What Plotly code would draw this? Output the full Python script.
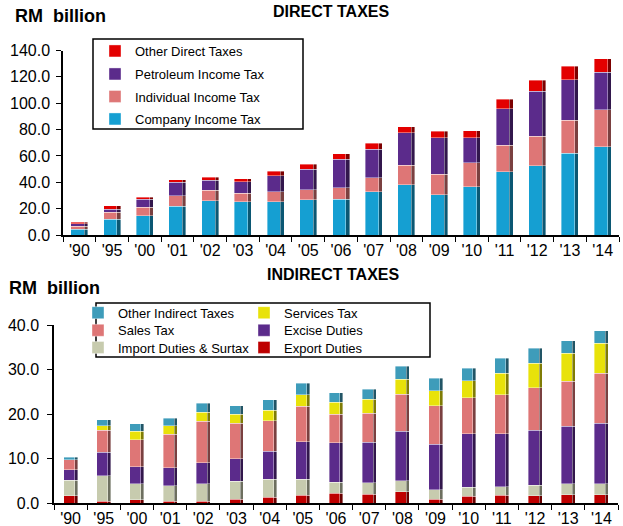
import plotly.graph_objects as go

years = ["'90", "'95", "'00", "'01", "'02", "'03", "'04", "'05", "'06",
         "'07", "'08", "'09", "'10", "'11", "'12", "'13", "'14"]

# Direct taxes (RM billion)
company_income_tax = [4.5, 12.1, 14.6, 21.7, 25.9, 25.2, 25.4, 26.7, 27.2,
                      32.7, 38.3, 30.7, 36.8, 48.1, 52.4, 61.9, 67.0]
individual_income_tax = [2.2, 5.0, 6.3, 8.0, 8.1, 6.3, 7.3, 7.5, 8.8,
                         10.9, 14.8, 15.4, 18.1, 19.9, 22.6, 25.2, 28.2]
petroleum_income_tax = [1.9, 2.5, 6.3, 10.3, 7.5, 8.8, 12.1, 15.7, 21.4,
                        21.4, 24.4, 27.7, 18.9, 27.7, 34.0, 30.7, 28.2]
other_direct_taxes = [1.0, 2.6, 1.5, 2.1, 2.5, 2.5, 3.5, 3.7, 4.3,
                      4.5, 4.6, 4.8, 5.3, 7.3, 8.6, 10.1, 10.3]

# Indirect taxes (RM billion)
export_duties = [1.6, 0.4, 0.7, 0.4, 0.4, 0.9, 1.3, 1.7, 2.2,
                 2.0, 2.5, 0.9, 1.5, 1.7, 1.6, 1.8, 1.8]
import_duties = [3.5, 5.7, 3.6, 3.5, 3.9, 4.0, 4.0, 3.6, 2.5,
                 2.5, 2.5, 2.1, 2.0, 2.0, 2.4, 2.5, 2.5]
excise_duties = [2.4, 5.3, 3.9, 4.0, 4.7, 5.0, 6.3, 8.5, 8.8,
                 9.1, 11.1, 10.2, 12.1, 11.9, 12.3, 13.0, 13.6]
sales_tax = [2.2, 4.9, 6.0, 7.6, 9.4, 8.0, 6.9, 7.9, 6.5,
             6.6, 8.3, 8.6, 8.1, 8.7, 9.6, 10.1, 11.3]
services_tax = [0.0, 1.1, 1.9, 1.9, 2.0, 2.1, 2.3, 2.6, 2.6,
                3.1, 3.4, 3.4, 3.8, 4.9, 5.5, 6.2, 6.7]
other_indirect_taxes = [0.6, 1.3, 1.7, 1.7, 2.0, 1.8, 2.4, 2.6, 2.2,
                        2.3, 2.9, 2.8, 2.8, 3.3, 3.4, 2.9, 2.8]

direct_ticks = [0, 20, 40, 60, 80, 100, 120, 140]
indirect_ticks = [0, 10, 20, 30, 40]

W, H = 623, 526
FONT = "Liberation Sans, Arial, sans-serif"


def px_x(p):
    return p / W


def px_y(p):
    return (H - p) / H


def darken(hex_col, f=0.55):
    h = hex_col.lstrip("#")
    r, g, b = (int(h[i:i + 2], 16) for i in (0, 2, 4))
    return "rgb(%d,%d,%d)" % (r * f, g * f, b * f)


fig = go.Figure()

# (name, values, colour, legend-id, legend text-left px, legend row centre px)
direct_series = [
    ("Company Income Tax", company_income_tax, "#159FD2", "legend5", 135, 119),
    ("Individual Income Tax", individual_income_tax, "#DE7676", "legend4", 135, 96.5),
    ("Petroleum Income Tax", petroleum_income_tax, "#5B2B8B", "legend3", 135, 74),
    ("Other Direct Taxes", other_direct_taxes, "#E30000", "legend2", 135, 51),
]
indirect_series = [
    ("Export Duties", export_duties, "#BE0000", "legend6", 284, 347.5),
    ("Import Duties & Surtax", import_duties, "#C7CBAE", "legend7", 118, 347.5),
    ("Excise Duties", excise_duties, "#5B2B8B", "legend8", 284, 330.3),
    ("Sales Tax", sales_tax, "#DE7676", "legend9", 118, 330.3),
    ("Services Tax", services_tax, "#E8E20A", "legend10", 284, 312.7),
    ("Other Indirect Taxes", other_indirect_taxes, "#3E9CBA", "legend11", 118, 312.7),
]

SEP = dict(width=0.6, color="rgba(255,255,255,0.65)")

legends = {}
for name, vals, col, leg, tx, ty in direct_series:
    fig.add_trace(go.Bar(
        x=years, y=vals, name=name, xaxis="x", yaxis="y",
        width=0.52, marker=dict(color=col, line=SEP),
        legend=leg, showlegend=True,
    ))
    legends[leg] = (tx, ty)
# shaded right edge of each bar segment (bevel look)
for name, vals, col, leg, tx, ty in direct_series:
    fig.add_trace(go.Bar(
        x=years, y=vals, name=name, xaxis="x3", yaxis="y3",
        width=0.11, offset=0.15, marker=dict(color=darken(col), line=SEP),
        showlegend=False, hoverinfo="skip",
    ))

for name, vals, col, leg, tx, ty in indirect_series:
    fig.add_trace(go.Bar(
        x=years, y=vals, name=name, xaxis="x2", yaxis="y2",
        width=0.42, marker=dict(color=col, line=SEP),
        legend=leg, showlegend=True,
    ))
    legends[leg] = (tx, ty)
for name, vals, col, leg, tx, ty in indirect_series:
    fig.add_trace(go.Bar(
        x=years, y=vals, name=name, xaxis="x4", yaxis="y4",
        width=0.09, offset=0.12, marker=dict(color=darken(col), line=SEP),
        showlegend=False, hoverinfo="skip",
    ))

legend_layout = {}
for leg, (tx, ty) in legends.items():
    legend_layout[leg] = dict(
        x=px_x(tx - 40), y=px_y(ty - 15), xanchor="left", yanchor="top",
        bgcolor="rgba(0,0,0,0)", borderwidth=0, itemwidth=30,
        font=dict(family=FONT, size=13, color="black"),
    )

axis_common = dict(showline=True, linecolor="black", linewidth=1.5,
                   ticks="outside", ticklen=5, tickcolor="black", tickwidth=1.2,
                   showgrid=False, zeroline=False, automargin=False,
                   tickfont=dict(family=FONT, size=16, color="black"))

fig.update_layout(
    width=W, height=H,
    margin=dict(l=0, r=0, t=0, b=0, autoexpand=False),
    paper_bgcolor="white", plot_bgcolor="rgba(0,0,0,0)",
    barmode="stack", showlegend=True,
    font=dict(family=FONT, color="black"),
    xaxis=dict(domain=[px_x(63), px_x(619)], anchor="y", type="category",
               tickson="boundaries", **axis_common),
    yaxis=dict(domain=[px_y(235), px_y(50.5)], anchor="x", range=[0, 140],
               tickvals=direct_ticks, ticktext=["%.1f" % v for v in direct_ticks],
               ticklabelstandoff=3, **axis_common),
    xaxis3=dict(overlaying="x", matches="x", anchor="y3", visible=False,
                type="category"),
    yaxis3=dict(overlaying="y", matches="y", anchor="x3", visible=False),
    xaxis2=dict(domain=[px_x(54), px_x(618)], anchor="y2", type="category",
                tickson="boundaries", **axis_common),
    yaxis2=dict(domain=[px_y(503), px_y(325)], anchor="x2", range=[0, 40],
                tickvals=indirect_ticks, ticktext=["%.1f" % v for v in indirect_ticks],
                ticklabelstandoff=5, **axis_common),
    xaxis4=dict(overlaying="x2", matches="x2", anchor="y4", visible=False,
                type="category"),
    yaxis4=dict(overlaying="y2", matches="y2", anchor="x4", visible=False),
    shapes=[
        dict(type="rect", xref="paper", yref="paper",
             x0=px_x(93), x1=px_x(303), y0=px_y(129), y1=px_y(39),
             line=dict(color="black", width=1.5), fillcolor="rgba(0,0,0,0)"),
        dict(type="rect", xref="paper", yref="paper",
             x0=px_x(96), x1=px_x(430), y0=px_y(357), y1=px_y(303),
             line=dict(color="black", width=1.5), fillcolor="rgba(0,0,0,0)"),
    ],
    annotations=[
        dict(text="<b>RM\u00a0\u00a0billion</b>", x=px_x(13), y=px_y(16),
             xref="paper", yref="paper", xanchor="left", yanchor="middle",
             showarrow=False, font=dict(family=FONT, size=18, color="black")),
        dict(text="<b>DIRECT TAXES</b>", x=px_x(331), y=px_y(11),
             xref="paper", yref="paper", xanchor="center", yanchor="middle",
             showarrow=False, font=dict(family=FONT, size=16, color="black")),
        dict(text="<b>RM\u00a0\u00a0billion</b>", x=px_x(7), y=px_y(288),
             xref="paper", yref="paper", xanchor="left", yanchor="middle",
             showarrow=False, font=dict(family=FONT, size=18, color="black")),
        dict(text="<b>INDIRECT TAXES</b>", x=px_x(333), y=px_y(274),
             xref="paper", yref="paper", xanchor="center", yanchor="middle",
             showarrow=False, font=dict(family=FONT, size=16, color="black")),
    ],
    **legend_layout,
)

fig.write_html("out.html",
               config={"displayModeBar": False},
               post_script="document.body.style.margin='0';"
                           "document.body.style.overflow='hidden';")
